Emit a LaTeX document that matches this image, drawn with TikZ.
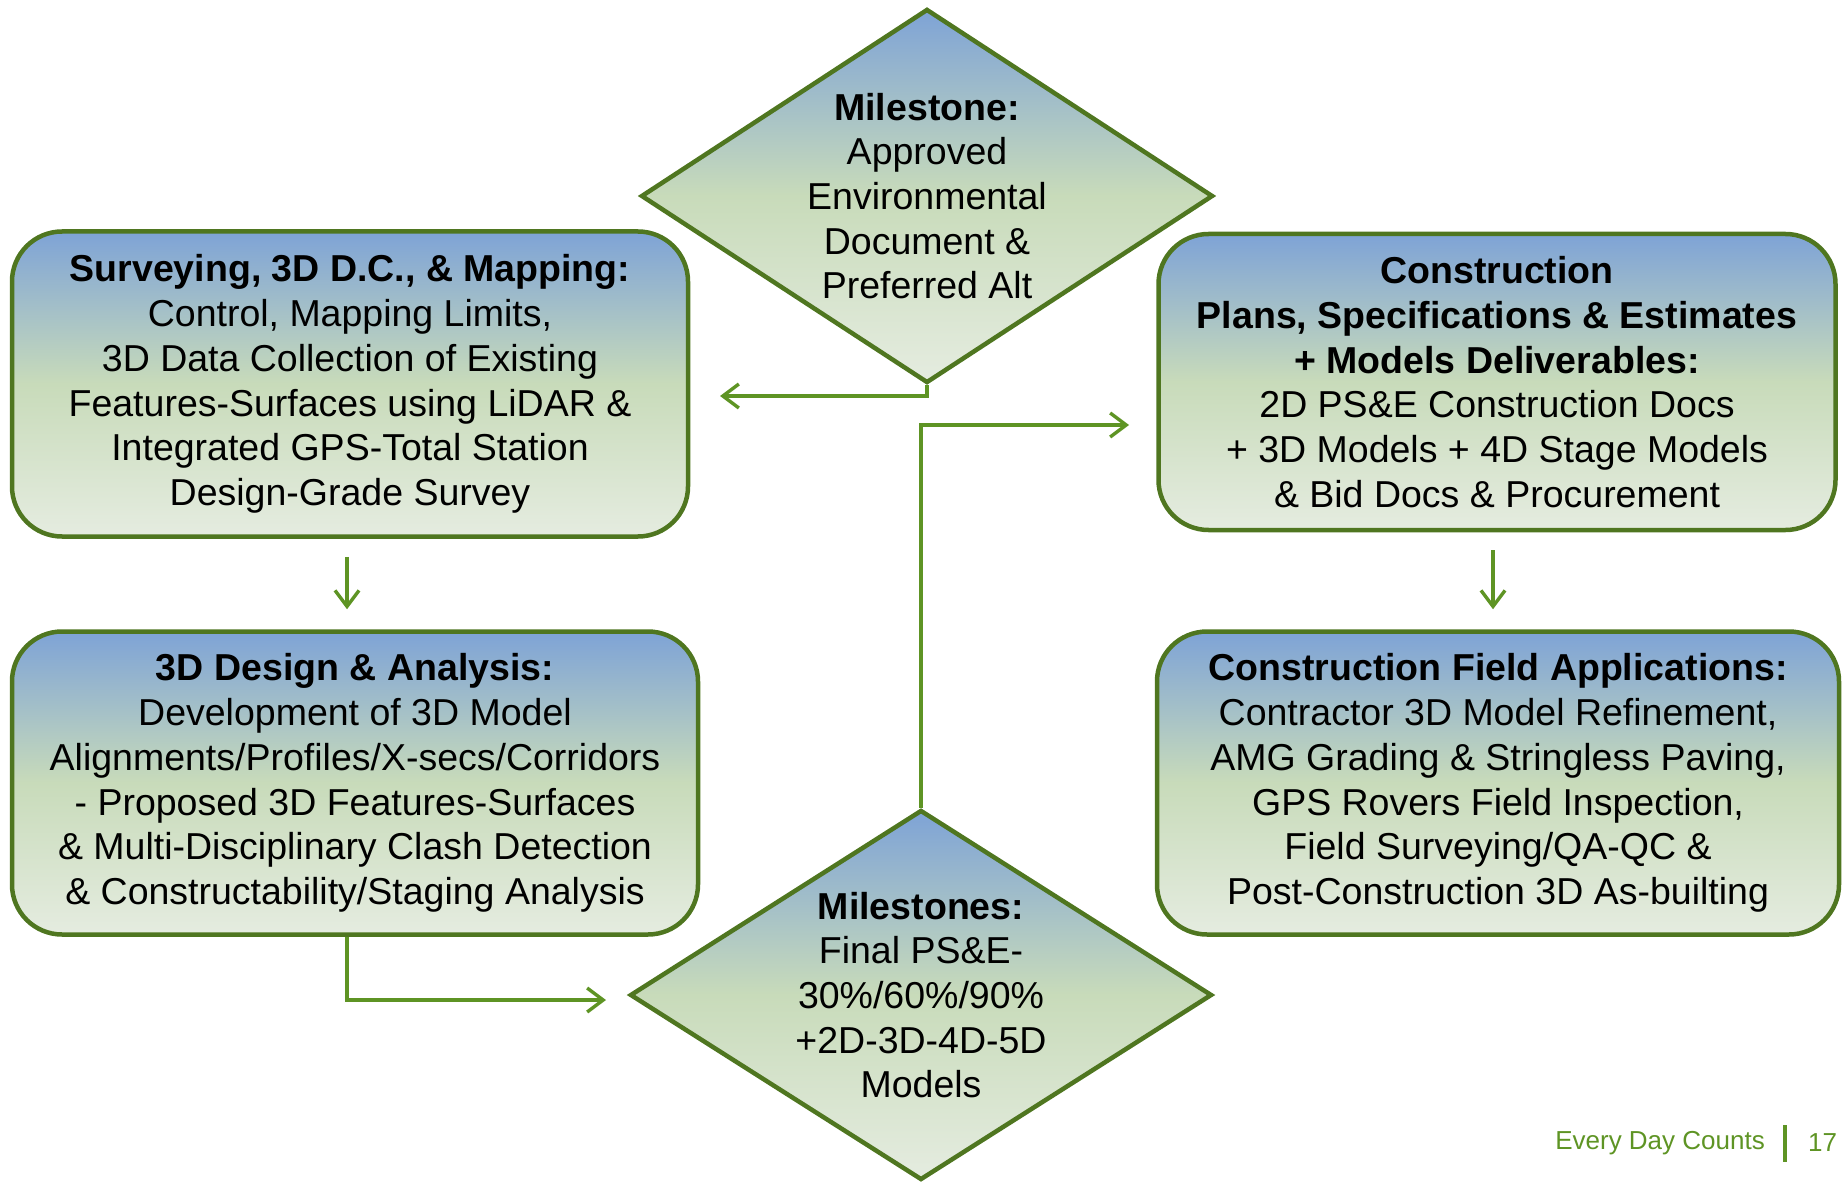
\documentclass[tikz,border=0pt]{standalone}
\usepackage{fontspec}
\setmainfont{Liberation Sans}
\usetikzlibrary{arrows.meta, shapes.geometric, positioning}

\definecolor{edcgreen}{RGB}{79,118,32}
\definecolor{edcarrow}{RGB}{94,148,36}
\definecolor{edcblue}{RGB}{126,163,214}
\definecolor{edcmid}{RGB}{200,219,186}
\definecolor{edcpale}{RGB}{229,236,224}

% blue top, green about the middle, pale at the foot
\pgfdeclareverticalshading{edcfade}{100bp}{color(0bp)=(edcpale); color(25bp)=(edcpale);
  color(50bp)=(edcmid); color(75bp)=(edcblue); color(100bp)=(edcblue)}

\begin{document}
\begin{tikzpicture}[x=1pt, y=-1pt,
  phasebox/.style={draw=edcgreen, line width=4.5pt, rounded corners=50pt,
    shading=edcfade, align=center, inner sep=0pt, font=\fontsize{37.5}{44.7}\selectfont},
  milestone/.style={draw=edcgreen, line width=4.5pt, diamond, inner sep=0pt, shading=edcfade},
  mstext/.style={align=center, inner sep=0pt, font=\fontsize{37.5}{44.7}\selectfont},
  flow/.style={draw=edcarrow, line width=3.4pt, -{Straight Barb[length=16pt, width=24pt]}}
]
  \useasboundingbox (0,0) rectangle (1845,1182);

  % Milestones (diamonds)
  \node[milestone, minimum width=572pt, minimum height=374pt] (ms1) at (927,196) {};
  \node[mstext] (ms1text) at (ms1) {\textbf{Milestone:}\\Approved\\Environmental\\Document \&\\Preferred Alt};

  \node[milestone, minimum width=582pt, minimum height=370pt] (ms2) at (921,995) {};
  \node[mstext] (ms2text) at (ms2) {\textbf{Milestones:}\\Final PS\&E-\\30\%/60\%/90\%\\+2D-3D-4D-5D\\Models};

  % Phases
  \node[phasebox, minimum width=676pt, minimum height=305pt] (survey) at (350,384) {%
    \textbf{Surveying, 3D D.C., \& Mapping:}\\Control, Mapping Limits,\\3D Data Collection of Existing\\%
    Features-Surfaces using LiDAR \&\\Integrated GPS-Total Station\\Design-Grade Survey};

  \node[phasebox, minimum width=686pt, minimum height=303pt] (design) at (355,783) {%
    \textbf{3D Design \& Analysis:}\\Development of 3D Model\\Alignments/Profiles/X-secs/Corridors\\%
    - Proposed 3D Features-Surfaces\\\& Multi-Disciplinary Clash Detection\\\& Constructability/Staging Analysis};

  \node[phasebox, minimum width=677pt, minimum height=296pt] (pse) at (1497,382) {%
    \textbf{Construction}\\\textbf{Plans, Specifications \& Estimates}\\\textbf{+ Models Deliverables:}\\%
    2D PS\&E Construction Docs\\+ 3D Models + 4D Stage Models\\\& Bid Docs \& Procurement};

  \node[phasebox, minimum width=682pt, minimum height=303pt] (field) at (1498,783) {%
    \textbf{Construction Field Applications:}\\Contractor 3D Model Refinement,\\AMG Grading \& Stringless Paving,\\%
    GPS Rovers Field Inspection,\\Field Surveying/QA-QC \&\\Post-Construction 3D As-builting};

  % Connectors
  \coordinate (toSurvey) at (720,396);
  \coordinate (toPse) at (1129,425);
  \coordinate (toMs2) at (606,1000);

  \draw[flow] (ms1.south) |- (toSurvey);
  \draw[flow] (ms2.north) |- (toPse);
  \draw[flow, shorten <=18pt, shorten >=20pt] (survey.south -| 347,0) -- (design.north -| 347,0);
  \draw[flow, shorten <=18pt, shorten >=20pt] (pse.south -| 1493,0) -- (field.north -| 1493,0);
  \draw[flow] (design.south -| 347,0) |- (toMs2);

  % Footer
  \node[anchor=east, text=edcarrow, inner sep=0pt, font=\fontsize{26}{30}\selectfont] (edc) at (1765,1143) {Every Day Counts};
  \draw[edcarrow, line width=4pt] (1785,1125) -- (1785,1162);
  \node[anchor=west, text=edcarrow, inner sep=0pt, font=\fontsize{26}{30}\selectfont] (page) at (1808,1143) {17};
\end{tikzpicture}
\end{document}
